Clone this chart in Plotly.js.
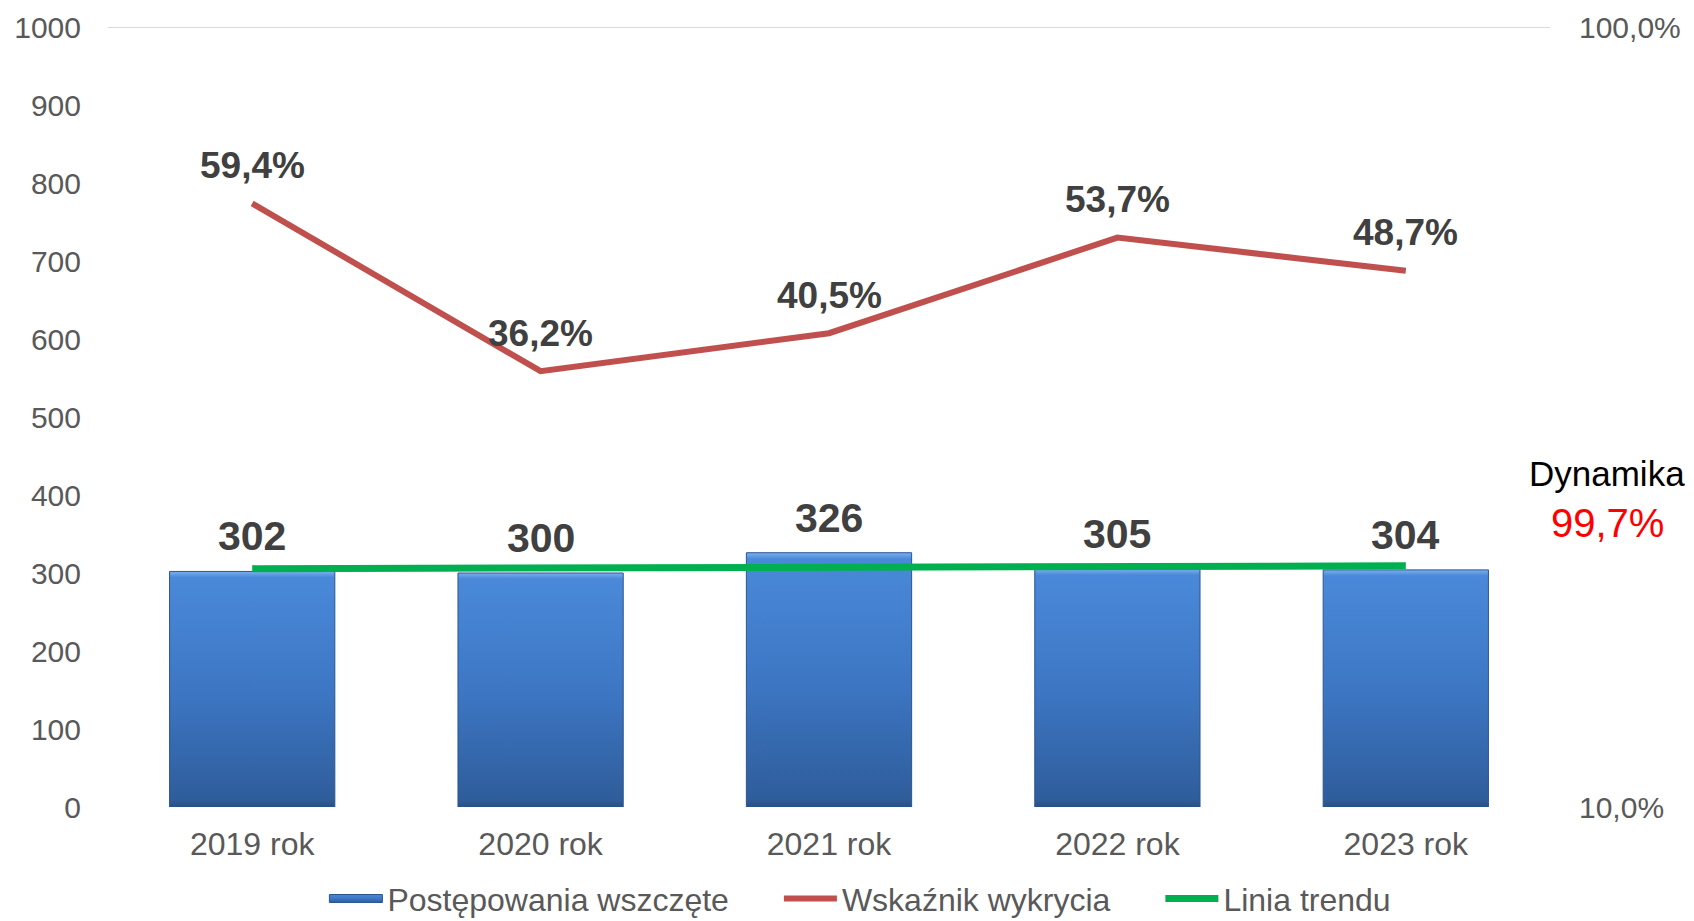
<!DOCTYPE html>
<html>
<head>
<meta charset="utf-8">
<script src="https://cdn.plot.ly/plotly-3.0.1.min.js"></script>
<style>
html,body{margin:0;padding:0;background:#fff;overflow:hidden;}
#chart{width:1694px;height:921px;}
</style>
</head>
<body>
<div id="chart"></div>
<script>
const categories = ['2019 rok', '2020 rok', '2021 rok', '2022 rok', '2023 rok'];
const cases = [302, 300, 326, 305, 304];
const detection = [59.4, 36.2, 40.5, 53.7, 48.7];
const trendX = ['2019 rok', '2023 rok'];
const trendY = [305.6, 309.2];
const leftTicks = [0, 100, 200, 300, 400, 500, 600, 700, 800, 900, 1000];
const rightTickVals = [10, 100];
const rightTickText = ['10,0%', '100,0%'];
const seriesNames = ['Postępowania wszczęte', 'Wskaźnik wykrycia', 'Linia trendu'];
const dynamicsLabel = 'Dynamika';
const dynamicsValue = '99,7%';

const FONT = 'Liberation Sans, Arial, sans-serif';
const fmtPct = v => v.toFixed(1).replace('.', ',') + '%';

const traces = [
  {
    type: 'bar', x: categories, y: cases, name: seriesNames[0],
    marker: {color: '#3c78c6', line: {color: '#2b5590', width: 1}},
    hoverinfo: 'skip'
  },
  {
    type: 'scatter', mode: 'lines', x: categories, y: detection, yaxis: 'y2',
    name: seriesNames[1], line: {color: '#c0504d', width: 6},
    hoverinfo: 'skip'
  },
  {
    type: 'scatter', mode: 'lines', x: trendX, y: trendY,
    name: seriesNames[2], line: {color: '#00b050', width: 7},
    hoverinfo: 'skip'
  }
];

const annotations = [];
categories.forEach((c, i) => {
  annotations.push({
    x: c, y: cases[i], xref: 'x', yref: 'y', text: String(cases[i]),
    showarrow: false, yanchor: 'middle', yshift: 35,
    font: {family: FONT, size: 41, color: '#404040', weight: 'bold'}
  });
  annotations.push({
    x: c, y: Math.log10(detection[i]), xref: 'x', yref: 'y2', text: fmtPct(detection[i]),
    showarrow: false, yanchor: 'middle', yshift: 38,
    font: {family: FONT, size: 37, color: '#404040', weight: 'bold'}
  });
});

const L = 108, R = 144, T = 27, B = 114, W = 1694, H = 921;
const pw = W - L - R, ph = H - T - B;
// text block at the right of the plot, placed in page pixels -> paper coords
const px = (x) => (x - L) / pw;
const py = (y) => (H - B - y) / ph;
annotations.push({
  x: px(1607), y: py(474), xref: 'paper', yref: 'paper', text: dynamicsLabel,
  xanchor: 'center', yanchor: 'middle',
  showarrow: false, font: {family: FONT, size: 35, color: '#000000'}
});
annotations.push({
  x: px(1607), y: py(523), xref: 'paper', yref: 'paper', text: dynamicsValue,
  xanchor: 'center', yanchor: 'middle',
  showarrow: false, font: {family: FONT, size: 40, color: '#ff0000'}
});

const layout = {
  width: W, height: H,
  margin: {l: L, r: R, t: T, b: B, pad: 0},
  paper_bgcolor: '#ffffff', plot_bgcolor: '#ffffff',
  font: {family: FONT, color: '#595959', size: 30},
  bargap: 0.427,
  showlegend: true,
  legend: {
    orientation: 'h', x: 0.5, xanchor: 'center', y: -0.05, yanchor: 'top',
    font: {family: FONT, size: 32, color: '#595959'}, traceorder: 'normal',
    bgcolor: 'rgba(0,0,0,0)'
  },
  xaxis: {
    type: 'category', range: [-0.5, 4.5], showgrid: false, zeroline: false,
    showline: false, ticks: '', ticklabelstandoff: 15,
    tickfont: {family: FONT, size: 32, color: '#595959'}
  },
  yaxis: {
    range: [0, 1000], tickvals: leftTicks, showgrid: false, zeroline: false,
    showline: false, ticks: '', ticklabelstandoff: 26,
    tickfont: {family: FONT, size: 30, color: '#595959'}
  },
  yaxis2: {
    type: 'log', range: [1, 2], overlaying: 'y', side: 'right',
    tickvals: rightTickVals, ticktext: rightTickText, showgrid: false,
    zeroline: false, showline: false, ticks: '', ticklabelstandoff: 28,
    tickfont: {family: FONT, size: 30, color: '#595959'}
  },
  shapes: [{
    type: 'line', xref: 'paper', x0: 0, x1: 1, yref: 'y', y0: 1000, y1: 1000,
    line: {color: '#d9d9d9', width: 2}, layer: 'below'
  }],
  annotations: annotations
};

Plotly.newPlot('chart', traces, layout, {staticPlot: true, displayModeBar: false}).then(gd => {
  const svg = gd.querySelector('.main-svg');
  const NS = 'http://www.w3.org/2000/svg';
  let defs = svg.querySelector('defs');
  if (!defs) { defs = document.createElementNS(NS, 'defs'); svg.insertBefore(defs, svg.firstChild); }
  const grad = document.createElementNS(NS, 'linearGradient');
  grad.setAttribute('id', 'barGrad');
  grad.setAttribute('x1', '0'); grad.setAttribute('y1', '0');
  grad.setAttribute('x2', '0'); grad.setAttribute('y2', '1');
  [['0', '#7ab0ee'], ['0.025', '#4a89d9'], ['0.5', '#3d77c4'], ['0.97', '#2f5d9b'], ['1', '#2a4f80']].forEach(([o, c]) => {
    const s = document.createElementNS(NS, 'stop');
    s.setAttribute('offset', o); s.setAttribute('stop-color', c);
    grad.appendChild(s);
  });
  defs.appendChild(grad);
  gd.querySelectorAll('.barlayer .point path').forEach(p => { p.style.fill = 'url(#barGrad)'; });

  // legend styling: long symbols like the original, wider spacing
  const legend = gd.querySelector('.legend');
  if (!legend) return;
  legend.querySelectorAll('[clip-path]').forEach(el => el.removeAttribute('clip-path'));
  const bg = legend.querySelector('rect.bg'); if (bg) bg.style.display = 'none';
  const items = Array.from(legend.querySelectorAll('.traces'));
  const SYM = 53, GAP = 5, AFTER = 55;
  let x = 0;
  items.forEach((item, i) => {
    const txt = item.querySelector('.legendtext');
    const tw = txt.getComputedTextLength();
    txt.setAttribute('x', SYM + GAP);
    txt.querySelectorAll('tspan').forEach(t => { if (t.hasAttribute('x')) t.setAttribute('x', SYM + GAP); });
    item.querySelectorAll('.legendlines path').forEach(p => p.setAttribute('d', 'M0,0h' + SYM));
    item.querySelectorAll('.legendpoints path').forEach(p => {
      let el = p;
      while (el && el !== item) { el.removeAttribute('transform'); el = el.parentNode; }
      p.setAttribute('d', 'M0,-4h' + SYM + 'v8h-' + SYM + 'Z');
      p.style.fill = 'url(#barGrad)';
      p.style.stroke = '#2b5590'; p.style.strokeWidth = '1px';
    });
    const m = /translate\(([-\d.]+)[ ,]*([-\d.]+)?\)/.exec(item.getAttribute('transform') || '');
    const iy = m && m[2] ? parseFloat(m[2]) : 0;
    item.setAttribute('transform', 'translate(' + x + ',' + iy + ')');
    x += SYM + GAP + tw + AFTER;
  });
  const total = x - AFTER;
  const lm = /translate\(([-\d.]+)[ ,]*([-\d.]+)?\)/.exec(legend.getAttribute('transform') || '');
  let ly = lm && lm[2] ? parseFloat(lm[2]) : 0;
  legend.setAttribute('transform', 'translate(' + (860 - total / 2) + ',' + ly + ')');
  const r = items[0].querySelector('.legendtext').getBoundingClientRect();
  const sr = svg.getBoundingClientRect();
  const cy = (r.top + r.bottom) / 2 - sr.top;
  ly += 900 - cy;
  legend.setAttribute('transform', 'translate(' + (860 - total / 2) + ',' + ly + ')');
});
</script>
</body>
</html>
